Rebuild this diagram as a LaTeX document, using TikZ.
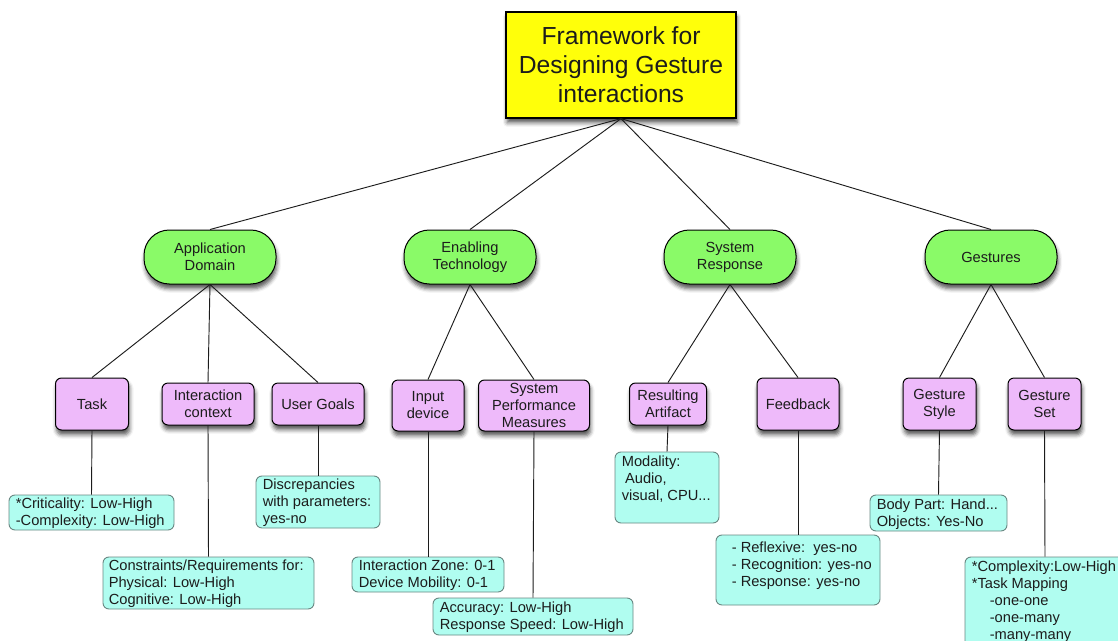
\documentclass[tikz,border=0pt]{standalone}
\usepackage{fontspec}
\setmainfont{Liberation Sans}
\usetikzlibrary{shadows.blur}

\definecolor{titlefill}{RGB}{255,255,10}
\definecolor{groupfill}{RGB}{138,250,104}
\definecolor{itemfill}{RGB}{238,186,250}
\definecolor{notefill}{RGB}{176,253,240}
\definecolor{noteline}{RGB}{105,135,130}
\definecolor{ink}{RGB}{28,28,28}

\begin{document}
\begin{tikzpicture}[x=0.75pt,y=-0.75pt,
  lift/.style={blur shadow={shadow xshift=0.8pt, shadow yshift=-3.6pt,
      shadow blur radius=3pt, shadow opacity=65}},
  smalltext/.style={font=\fontsize{11}{12.75}\selectfont},
  titlebox/.style={draw=black, line width=0.9pt, fill=titlefill,
      minimum width=172.5pt, minimum height=79.5pt, align=center,
      inner sep=0pt, text=ink, font=\fontsize{18.5}{21.75}\selectfont, lift},
  group/.style={draw=black, line width=0.75pt, fill=groupfill,
      rounded corners=19pt, minimum width=99pt, minimum height=40.5pt,
      align=center, inner sep=0pt, text=ink, smalltext, lift},
  item/.style={draw=black, line width=0.75pt, fill=itemfill,
      rounded corners=4.5pt, align=center, inner sep=0pt, text=ink,
      smalltext, lift},
  note/.style={draw=noteline, line width=0.7pt, fill=notefill,
      rounded corners=4.5pt, inner sep=0pt},
  notetext/.style={anchor=north west, align=left, inner sep=0pt,
      text=ink, smalltext},
  link/.style={draw=ink, line width=0.7pt}
]
\useasboundingbox (0,0) rectangle (1118,640);
\clip (0,0) rectangle (1118,640);

% root
\node[titlebox] (root) at (621,65)
  {Framework for\\Designing Gesture\\interactions};

% first level
\node[group] (app) at (210,257) {Application\\Domain};
\node[group] (tech) at (470,257) {Enabling\\Technology};
\node[group] (resp) at (730,257) {System\\Response};
\node[group] (gest) at (991,257) {Gestures};

% second level
\node[item, minimum width=54.75pt, minimum height=39pt] (task) at (92,404) {Task};
\node[item, minimum width=69pt, minimum height=31.5pt] (ctx) at (208,404) {Interaction\\context};
\node[item, minimum width=69pt, minimum height=31.5pt] (goals) at (318,404) {User Goals};
\node[item, minimum width=54pt, minimum height=38.25pt] (input) at (428,405.5) {Input\\device};
\node[item, minimum width=83.25pt, minimum height=38.25pt] (perf) at (534,405.5) {System\\Performance\\Measures};
\node[item, minimum width=57.75pt, minimum height=31.5pt] (artifact) at (668,404) {Resulting\\Artifact};
\node[item, minimum width=61.5pt, minimum height=39pt] (feedback) at (798,404) {Feedback};
\node[item, minimum width=54.75pt, minimum height=39pt] (style) at (939.5,404) {Gesture\\Style};
\node[item, minimum width=54.75pt, minimum height=39pt] (set) at (1044.5,404) {Gesture\\Set};

% detail boxes
\node[note, minimum width=123.75pt, minimum height=26.25pt] (taskN) at (91.5,512.5) {};
\node[notetext] (taskT) at ([shift={(7,3)}]taskN.north west)
  {*Criticality: Low-High\\-Complexity: Low-High};

\node[note, minimum width=158.25pt, minimum height=39pt] (ctxN) at (208.5,583) {};
\node[notetext] (ctxT) at ([shift={(6,3)}]ctxN.north west)
  {Constraints/Requirements for:\\Physical: Low-High\\Cognitive: Low-High};

\node[note, minimum width=93pt, minimum height=39pt] (goalsN) at (318,502) {};
\node[notetext] (goalsT) at ([shift={(7,3)}]goalsN.north west)
  {Discrepancies\\with parameters:\\yes-no};

\node[note, minimum width=114pt, minimum height=26.25pt] (inputN) at (428,574.5) {};
\node[notetext] (inputT) at ([shift={(7,3)}]inputN.north west)
  {Interaction Zone: 0-1\\Device Mobility: 0-1};

\node[note, minimum width=150pt, minimum height=27.75pt] (perfN) at (533,616.5) {};
\node[notetext] (perfT) at ([shift={(7,4)}]perfN.north west)
  {Accuracy: Low-High\\Response Speed: Low-High};

\node[note, minimum width=78pt, minimum height=53.25pt] (artifactN) at (667,487.5) {};
\node[notetext] (artifactT) at ([shift={(7,4)}]artifactN.north west)
  {Modality:\\\hspace*{2.5pt}Audio,\\visual, CPU...};

\node[note, minimum width=123pt, minimum height=52.5pt] (feedbackN) at (798,570) {};
\node[notetext] (feedbackT) at ([shift={(16,7)}]feedbackN.north west)
  {- Reflexive:\ \ yes-no\\- Recognition: yes-no\\- Response: yes-no};

\node[note, minimum width=102.75pt, minimum height=27pt] (styleN) at (938.5,513) {};
\node[notetext] (styleT) at ([shift={(7,4)}]styleN.north west)
  {Body Part: Hand...\\Objects: Yes-No};

% this box runs on past the lower right edge of the frame
\node[note, minimum width=120pt, minimum height=78pt] (setN) at (1045,609) {};
\node[notetext] (setT) at ([shift={(7,4)}]setN.north west)
  {*Complexity:Low-High\\{*}Task Mapping\\\hspace*{13.5pt}-one-one\\\hspace*{13.5pt}-one-many\\\hspace*{13.5pt}-many-many};

% connectors
\foreach \g in {app,tech,resp,gest}
  \draw[link] (root.south) -- (\g.north);
\foreach \i in {task,ctx,goals}
  \draw[link] (app.south) -- (\i.north);
\foreach \i in {input,perf}
  \draw[link] (tech.south) -- (\i.north);
\foreach \i in {artifact,feedback}
  \draw[link] (resp.south) -- (\i.north);
\foreach \i in {style,set}
  \draw[link] (gest.south) -- (\i.north);
\foreach \i in {task,ctx,goals,input,perf,artifact,feedback,style,set}
  \draw[link] (\i.south) -- (\i N.north);
\end{tikzpicture}
\end{document}
